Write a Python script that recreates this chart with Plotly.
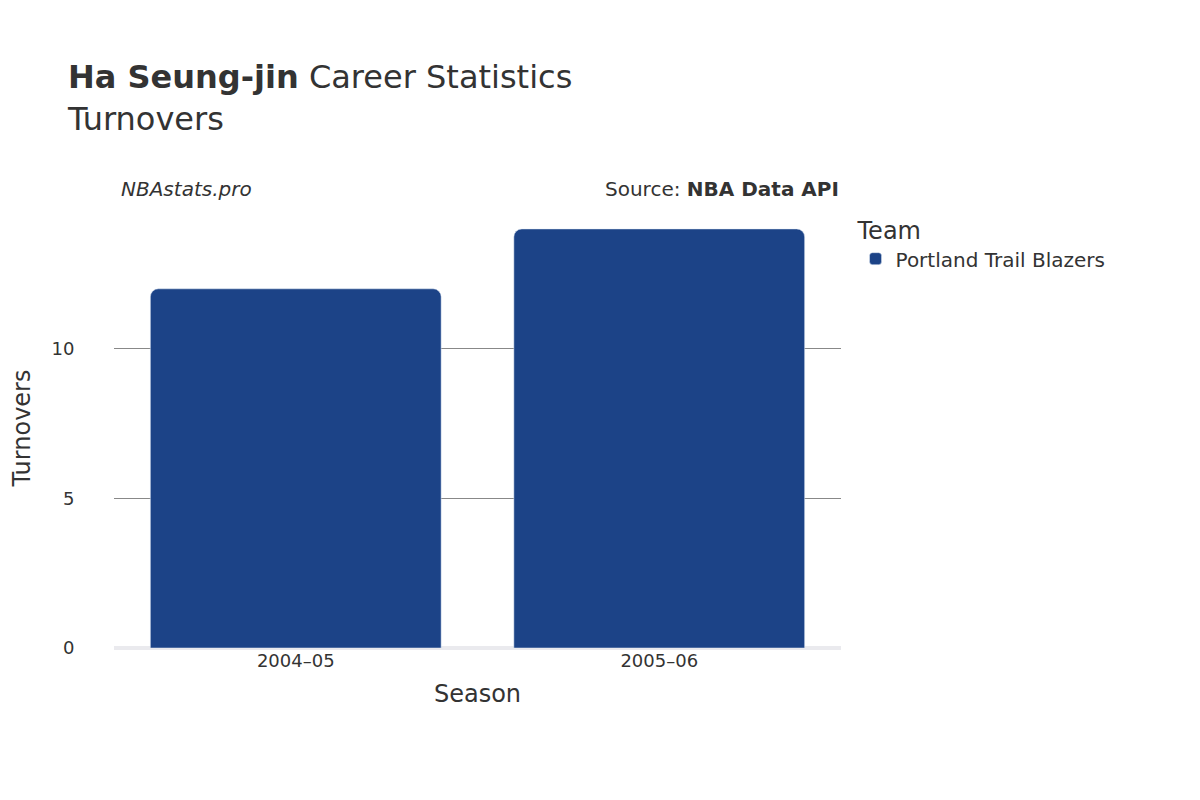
import plotly.graph_objects as go

seasons = ["2004–05", "2005–06"]
turnovers = [12, 14]
team = "Portland Trail Blazers"

fig = go.Figure()
fig.add_trace(go.Bar(x=seasons, y=turnovers, name=team, marker_color="#1c4387",
                     showlegend=True))
fig.update_layout(
    width=1200, height=800,
    font=dict(family="DejaVu Sans", color="#333", size=18),
    plot_bgcolor="white", paper_bgcolor="white",
    margin=dict(l=93, r=367, t=200, b=160),
    barcornerradius=8, bargap=0.2,
    title=dict(text="<b>Ha Seung-jin</b> Career Statistics<br>Turnovers",
               x=0.05, xanchor="left", y=0.9, yanchor="top", font=dict(size=32)),
    xaxis=dict(title=dict(text="Season", font=dict(size=24)), showgrid=False, ticks=""),
    yaxis=dict(title=dict(text="Turnovers", font=dict(size=24)), range=[0, 14.7],
               tickvals=[0, 5, 10], gridcolor="#888", zeroline=True,
               zerolinecolor="#eaeaee", zerolinewidth=4, ticks="outside",
               ticklen=35, tickcolor="white"),
    legend=dict(title=dict(text="Team", font=dict(size=24)), x=1.02, y=1.0,
                xanchor="left", yanchor="top", font=dict(size=20)),
    annotations=[
        dict(text="<i>NBAstats.pro</i>", x=0.0, xref="paper", xanchor="left", xshift=5,
             y=1.0, yref="paper", yanchor="bottom", yshift=5, showarrow=False,
             font=dict(size=20)),
        dict(text="Source: <b>NBA Data API</b>", x=1.0, xref="paper", xanchor="right",
             y=1.0, yref="paper", yanchor="bottom", yshift=5, showarrow=False,
             font=dict(size=20)),
    ],
)
fig.write_html("out.html")
